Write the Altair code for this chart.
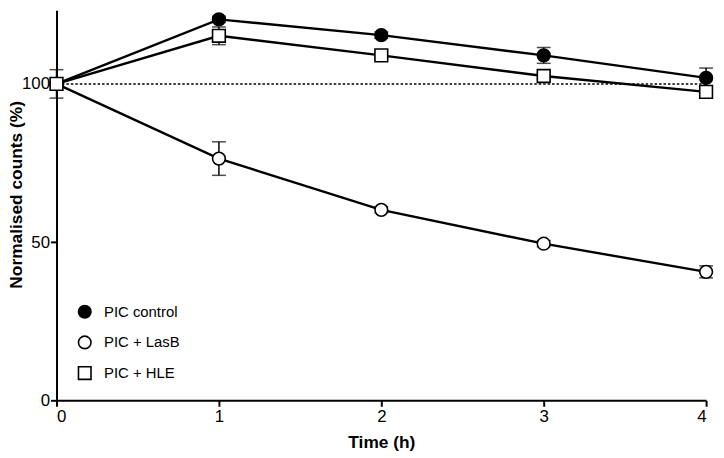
import altair as alt
import pandas as pd

hours = [0, 1, 2, 3, 4]
series_names = ["PIC control", "PIC + LasB", "PIC + HLE"]
control_mean = [100, 120.4, 115.4, 109.0, 101.9]
control_err = [4.5, 1.0, 1.0, 2.5, 3.1]
lasb_mean = [100, 76.4, 60.2, 49.5, 40.6]
lasb_err = [0, 5.3, 1.0, 1.0, 1.9]
hle_mean = [100, 115.2, 109.0, 102.5, 97.5]
hle_err = [0, 2.8, 1.0, 1.0, 1.5]
y_ticks = [0, 50, 100]
x_ticks = [0, 1, 2, 3, 4]

rows = []
for name, means, errs in zip(series_names, [control_mean, lasb_mean, hle_mean],
                             [control_err, lasb_err, hle_err]):
    for h, m, e in zip(hours, means, errs):
        rows.append({"series": name, "t": h, "mean": m, "err": e,
                     "lo": m - e, "hi": m + e})
df = pd.DataFrame(rows)
err_df = df[df["err"] > 0]

FONT = "Liberation Sans"
xscale = alt.Scale(domain=[0, 4], nice=False, zero=False)
yscale = alt.Scale(domain=[0, 123.3], nice=False)

xax = alt.X("t:Q", scale=xscale,
            axis=alt.Axis(values=x_ticks, title="Time (h)", titleY=43,
                          titleBaseline="middle", format="d"))
yax = alt.Y("mean:Q", scale=yscale,
            axis=alt.Axis(values=y_ticks, title="Normalised counts (%)",
                          titleX=-31, titleY=186, titleBaseline="bottom"))

base = alt.Chart(df)

ref = alt.Chart(pd.DataFrame({"v": [100]})).mark_rule(
    color="black", strokeWidth=1.5, strokeDash=[2.5, 2]).encode(
    y=alt.Y("v:Q", scale=yscale))

lines = base.mark_line(color="black", strokeWidth=2.4).encode(
    x=xax, y=yax, detail="series:N", order="t:Q")

eb = alt.Chart(err_df)
rules = eb.mark_rule(color="black", strokeWidth=1.5).encode(
    x=alt.X("t:Q", scale=xscale), y=alt.Y("lo:Q", scale=yscale), y2="hi:Q")
cap_lo = eb.mark_tick(color="black", thickness=1.5, size=14, orient="horizontal").encode(
    x=alt.X("t:Q", scale=xscale), y=alt.Y("lo:Q", scale=yscale))
cap_hi = eb.mark_tick(color="black", thickness=1.5, size=14, orient="horizontal").encode(
    x=alt.X("t:Q", scale=xscale), y=alt.Y("hi:Q", scale=yscale))


def make_legend():
    return alt.Legend(title=None, orient="none", legendX=21, legendY=297,
                      symbolSize=160, symbolStrokeWidth=1.6,
                      labelFontSize=15, labelFont=FONT, labelColor="black",
                      labelOffset=12, rowPadding=10, padding=0)


points = base.mark_point(size=165, strokeWidth=1.6, opacity=1, filled=False).encode(
    x=xax, y=yax,
    shape=alt.Shape("series:N",
                    scale=alt.Scale(domain=series_names, range=["circle", "circle", "square"]),
                    legend=make_legend()),
    fill=alt.Fill("series:N",
                  scale=alt.Scale(domain=series_names, range=["black", "white", "white"]),
                  legend=make_legend()),
    stroke=alt.Stroke("series:N",
                      scale=alt.Scale(domain=series_names, range=["black", "black", "black"]),
                      legend=make_legend()),
    order=alt.Order("series:N", sort="descending"),
)

chart = alt.layer(ref, lines, rules, cap_lo, cap_hi, points).properties(
    width=656, height=394,
    autosize=alt.AutoSizeParams(type="none"),
    padding={"left": 49, "top": 0, "right": 10, "bottom": 50},
).configure_view(stroke=None).configure_axis(
    grid=False, domainColor="black", domainWidth=2, tickColor="black", tickWidth=2,
    tickSize=6, labelColor="black", labelFont=FONT, labelFontSize=17, labelPadding=1,
    titleFont=FONT, titleFontSize=17.5, titleFontWeight="bold", titleColor="black",
).configure_axisX(labelPadding=2)

chart.save("out.html", embed_options={"renderer": "svg", "actions": False})
